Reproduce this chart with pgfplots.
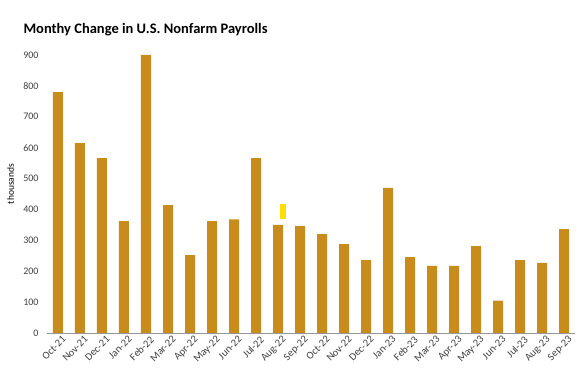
\documentclass[border=0pt]{standalone}
\usepackage{pgfplots}
\pgfplotsset{compat=1.18}
\usepackage{fontspec}
\setmainfont{Carlito}
\definecolor{barc}{RGB}{200,140,28}
\definecolor{marky}{RGB}{255,222,0}
\definecolor{tickc}{RGB}{64,64,64}
\definecolor{axc}{RGB}{150,150,150}
\begin{document}
\begin{tikzpicture}
\begin{axis}[
  scale only axis, width=528pt, height=278pt,
  xmin=-0.5, xmax=23.5, ymin=0, ymax=900,
  axis lines=left,
  y axis line style={draw=none},
  x axis line style={draw=axc, line width=0.8pt, -},
  major tick length=0pt,
  tick style={draw=none},
  ytick={0,100,...,900},
  xtick={0,...,23},
  xticklabels={Oct-21,Nov-21,Dec-21,Jan-22,Feb-22,Mar-22,Apr-22,May-22,Jun-22,Jul-22,Aug-22,Sep-22,Oct-22,Nov-22,Dec-22,Jan-23,Feb-23,Mar-23,Apr-23,May-23,Jun-23,Jul-23,Aug-23,Sep-23},
  /pgf/number format/assume math mode=true,
  yticklabel style={font=\fontsize{10}{12}\selectfont, color=tickc, xshift=-5pt},
  xticklabel style={font=\fontsize{10.5}{12}\selectfont, color=tickc, rotate=45, anchor=north east, inner sep=1pt, yshift=-3pt, xshift=2pt},
  ylabel={thousands},
  ylabel style={font=\fontsize{9.5}{11}\selectfont, color=black, at={(axis description cs:-0.056,0.536)}, anchor=south},
  clip=false,
]
\addplot[ybar, bar width=10pt, bar shift=0pt, fill=barc, draw=none] coordinates {
(0,780) (1,615) (2,566) (3,362) (4,900) (5,414) (6,252) (7,362) (8,368) (9,566)
(10,350) (11,346) (12,320) (13,288) (14,236) (15,470) (16,246) (17,217) (18,217)
(19,281) (20,105) (21,236) (22,227) (23,336)
};
\addplot[sharp plot, draw=marky, line width=6pt, no markers] coordinates {(10.23,370) (10.23,418)};
\end{axis}
\node[anchor=base west, font=\fontsize{14.5}{16}\selectfont\bfseries] at ([xshift=-27pt, yshift=21pt]current axis.north west) {Monthy Change in U.S. Nonfarm Payrolls};
\path ([xshift=-47pt, yshift=-38pt]current axis.south west) rectangle ([xshift=12pt, yshift=55pt]current axis.north east);
\end{tikzpicture}
\end{document}
